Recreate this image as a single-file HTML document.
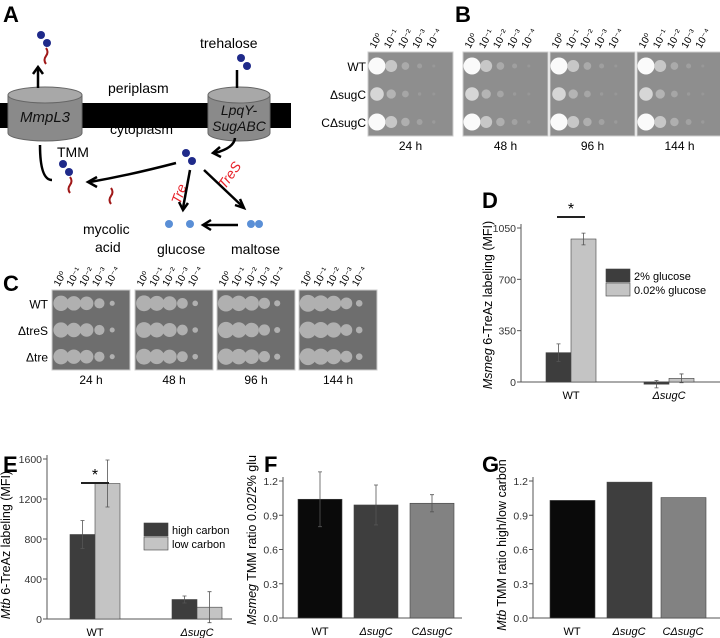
<!DOCTYPE html>
<html><head><meta charset="utf-8"><style>
body{margin:0;background:#fff;}
svg{display:block;font-family:"Liberation Sans",sans-serif;}
</style></head><body>
<svg id="fig" width="720" height="638" viewBox="0 0 720 638">
<g>
<text x="3" y="22" font-size="22" font-weight="bold">A</text>
<rect x="0" y="103" width="291" height="25" fill="#000"/>
<g>
<path d="M8 95 L8 133 A37 8 0 0 0 82 133 L82 95 Z" fill="#8a8a8a" stroke="#666"/>
<ellipse cx="45" cy="95" rx="37" ry="8" fill="#a8a8a8" stroke="#666"/>
<text x="45" y="122" font-size="15" font-style="italic" text-anchor="middle" fill="#111">MmpL3</text>
</g>
<g>
<path d="M208 95 L208 133 A31 8 0 0 0 270 133 L270 95 Z" fill="#8a8a8a" stroke="#666"/>
<ellipse cx="239" cy="95" rx="31" ry="8" fill="#a8a8a8" stroke="#666"/>
<text x="239" y="115" font-size="14" font-style="italic" text-anchor="middle" fill="#111">LpqY-</text>
<text x="239" y="131" font-size="14" font-style="italic" text-anchor="middle" fill="#111">SugABC</text>
</g>
<text x="108" y="93" font-size="14">periplasm</text>
<text x="200" y="48" font-size="14">trehalose</text>
<text x="110" y="134" font-size="14">cytoplasm</text>
<text x="57" y="157" font-size="14">TMM</text>
<text x="83" y="234" font-size="14">mycolic</text>
<text x="95" y="252" font-size="14">acid</text>
<text x="157" y="254" font-size="14">glucose</text>
<text x="231" y="254" font-size="14">maltose</text>
<text x="0" y="0" font-size="14" fill="#e8222a" font-style="italic" transform="translate(180,205) rotate(-70)">Tre</text>
<text x="0" y="0" font-size="14" fill="#e8222a" font-style="italic" transform="translate(225,190) rotate(-55)">TreS</text>
<g fill="#1f2a8a">
<circle cx="41" cy="35" r="4"/><circle cx="47" cy="43" r="4"/>
<circle cx="241" cy="58" r="4"/><circle cx="247" cy="66" r="4"/>
<circle cx="186" cy="153" r="4"/><circle cx="192" cy="161" r="4"/>
<circle cx="63" cy="164" r="4"/><circle cx="69" cy="172" r="4"/>
</g>
<g fill="#5a8fd6"><circle cx="169" cy="224" r="4"/><circle cx="190" cy="224" r="4"/><circle cx="251" cy="224" r="4"/><circle cx="259" cy="224" r="4"/></g>
<g stroke="#a01818" stroke-width="2" fill="none">
<path d="M46 48 q3 4 0 8 q-3 4 0 8"/><path d="M70 177 q3 4 0 8 q-3 4 0 8"/><path d="M111 188 q3 4 0 8 q-3 4 0 8"/>
</g>
<g stroke="#000" stroke-width="2.5" fill="none">
<line x1="237" y1="70" x2="237" y2="88"/>
<path d="M38 88 L38 68"/><path d="M33 74 L38 67 L43 74"/>
<path d="M52 180 Q40 180 40 145"/>
<path d="M176 163 Q130 175 90 182"/><path d="M97 177 L88 182 L97 187"/>
<path d="M235 138 Q234 148 215 153"/><path d="M220 147 L213 153 L221 157"/>
<path d="M190 170 L183 208"/><path d="M179 202 L183 210 L188 203"/>
<path d="M204 170 L242 206"/><path d="M235 205 L244 208 L240 199"/>
<path d="M238 225 L205 225"/><path d="M211 220 L203 225 L211 230"/>
</g>
</g>
<g id="plates"></g>
<text x="455" y="22" font-size="22" font-weight="bold">B</text>
<text x="3" y="291" font-size="22" font-weight="bold">C</text>
<g id="charts"></g>
</svg>
<script>
const NS="http://www.w3.org/2000/svg";
function mk(tag,attrs,parent,txt){const e=document.createElementNS(NS,tag);for(const k in attrs)e.setAttribute(k,attrs[k]);if(txt!==undefined)e.textContent=txt;parent.appendChild(e);return e;}
const plates=document.getElementById('plates');
const bRows=["WT","ΔsugC","CΔsugC"];
const bTimes=["24 h","48 h","96 h","144 h"];
const bSpots=[[1,0.7,0.45,0.3,0.15],[0.8,0.55,0.4,0.2,0.1],[1,0.7,0.5,0.35,0.2]];
const cRows=["WT","ΔtreS","Δtre"];
const cSpots=[[0.9,0.85,0.8,0.6,0.3],[0.9,0.85,0.8,0.6,0.3],[0.9,0.85,0.8,0.6,0.3]];
const expLabels=["10\u2070","10\u207B\u00B9","10\u207B\u00B2","10\u207B\u00B3","10\u207B\u2074"];
function drawPlates(xs,w,y0,h,rows,spots,times,labX,growth){
 rows.forEach((r,i)=>{const t=mk('text',{x:labX,y:y0+h*(i*2+1)/6+5,'font-size':12,'text-anchor':'end'},plates,r);
  
  });
 xs.forEach((x,p)=>{
  const pl=mk('rect',{x:x,y:y0,width:w,height:h,fill:growth?'#6e6e6e':'#8e8e8e',stroke:'#ccc'},plates);
  
  
  rows.forEach((r,i)=>spots[i].forEach((s,j)=>{
   const sf=growth?Math.min(1,s+p*0.03):s;
   const c=growth?176:Math.round(150+100*sf*sf);
   mk('circle',{cx:x+9+j*(w-14)/5,cy:y0+h*(i*2+1)/6,r:Math.max(1.5,sf*8.5),fill:`rgb(${c},${c},${c})`},plates);
  }));
  const tl=mk('text',{x:x+w/2,y:y0+h+14,'font-size':12,'text-anchor':'middle'},plates,times[p]);
  
  
  expLabels.forEach((e,j)=>{mk('text',{transform:`translate(${x+7+j*(w-14)/5},${y0-3}) rotate(-60)`,'font-size':10},plates,e);});
 });
}
drawPlates([368,463,550,637],85,52,84,bRows,bSpots,bTimes,366,false);
drawPlates([52,135,217,299],78,290,80,cRows,cSpots,bTimes,48,true);

const charts=document.getElementById('charts');
const dCats=["WT","ΔsugC"];
const dHigh=[200,-15];
const dLow=[975,25];
const dHighErr=[60,25];
const dLowErr=[40,30];
const dTicks=[0,350,700,1050];
const eCats=["WT","ΔsugC"];
const eHigh=[845,195];
const eLow=[1355,118];
const eHighErr=[140,35];
const eLowErr=[235,155];
const eTicks=[0,400,800,1200,1600];
const fCats=["WT","ΔsugC","CΔsugC"];
const fVals=[1.04,0.99,1.005];
const fErr=[0.24,0.175,0.075];
const fTicks=[0.0,0.3,0.6,0.9,1.2];
const gCats=["WT","ΔsugC","CΔsugC"];
const gVals=[1.03,1.19,1.055];
const gTicks=[0.0,0.3,0.6,0.9,1.2];

function axisChart(o){
 const g=mk('g',{},charts);
 
 
 const y=v=>o.y0-(v-o.vmin)/(o.vmax-o.vmin)*(o.y0-o.y1);
 mk('text',{x:o.lx,y:o.ly,'font-size':22,'font-weight':'bold'},g,o.letter);
 mk('line',{x1:o.ax,y1:o.y1-4,x2:o.ax,y2:y(0),stroke:'#555'},g);
 mk('line',{x1:o.ax,y1:y(0),x2:o.ax2,y2:y(0),stroke:'#555'},g);
 o.ticks.forEach(t=>{mk('line',{x1:o.ax-4,y1:y(t),x2:o.ax,y2:y(t),stroke:'#555'},g);
  const tl=mk('text',{x:o.ax-5,y:y(t)+4,'font-size':10.5,'text-anchor':'end',fill:'#333'},g,o.fmt?o.fmt(t):t);
  
  });
 const yt=mk('text',{transform:`translate(${o.tx},${o.tyc||(o.y0+o.y1)/2}) rotate(-90)`,'font-size':12.5,'text-anchor':'middle'},g);
 
 
 mk('tspan',{'font-style':'italic'},yt,o.titleIt);mk('tspan',{},yt,o.title);
 o.series.forEach((s,si)=>s.vals.forEach((v,i)=>{
  const x=o.cx[i]+s.off;
  const b=mk('rect',{x:x,y:Math.min(y(v),y(0)),width:o.bw,height:Math.abs(y(v)-y(0)),fill:s.colors[i]||s.colors[0],stroke:'#444','stroke-width':0.6},g);
  
  
  if(s.err){const cx=x+o.bw/2,e=s.err[i];
   mk('path',{d:`M${cx} ${y(v+e)}V${y(v-e)}M${cx-2} ${y(v+e)}h4M${cx-2} ${y(v-e)}h4`,stroke:'#555','stroke-width':0.8,fill:'none'},g);}
 }));
 o.cats.forEach((c,i)=>{const t=mk('text',{x:o.cx[i]+o.labOff,y:y(0)+17,'font-size':11,'text-anchor':'middle','font-style':c.startsWith('WT')?'normal':'italic'},g,c);
  
  });
 if(o.legend){o.legend.forEach((l,i)=>{mk('rect',{x:o.legX,y:o.legY+i*14,width:24,height:13,fill:l.c,stroke:'#444','stroke-width':0.6},g);
  const t=mk('text',{x:o.legX+28,y:o.legY+i*14+11,'font-size':11},g,l.t);
  
  });}
 if(o.star){mk('line',{x1:o.star[0],y1:o.star[2],x2:o.star[1],y2:o.star[2],stroke:'#222','stroke-width':2},g);
  mk('text',{x:(o.star[0]+o.star[1])/2,y:o.star[2]-3,'font-size':16,'text-anchor':'middle'},g,'*');}
 return g;
}
axisChart({name:'chart-d',letter:'D',lx:482,ly:208,ax:521,ax2:720,y0:382,y1:228,vmin:0,vmax:1050,ticks:dTicks,
 tx:492,tyc:305,titleIt:'Msmeg',title:' 6-TreAz labeling (MFI)',cats:dCats,cx:[546,644],bw:25,labOff:25,
 series:[{key:'high',vals:dHigh,err:dHighErr,off:0,colors:['#3d3d3d']},{key:'low',vals:dLow,err:dLowErr,off:25,colors:['#c4c4c4']}],
 legend:[{c:'#3d3d3d',t:'2% glucose'},{c:'#c4c4c4',t:'0.02% glucose'}],legX:606,legY:269,star:[557,585,217]});
axisChart({name:'chart-e',letter:'E',lx:3,ly:472,ax:47,ax2:232,y0:619,y1:459,vmin:0,vmax:1600,ticks:eTicks,
 tx:10,tyc:545,titleIt:'Mtb',title:' 6-TreAz labeling (MFI)',cats:eCats,cx:[70,172],bw:25,labOff:25,
 series:[{key:'high',vals:eHigh,err:eHighErr,off:0,colors:['#3d3d3d']},{key:'low',vals:eLow,err:eLowErr,off:25,colors:['#c4c4c4']}],
 legend:[{c:'#3d3d3d',t:'high carbon'},{c:'#c4c4c4',t:'low carbon'}],legX:144,legY:523,star:[81,109,483]});
axisChart({name:'chart-f',letter:'F',lx:264,ly:472,ax:283,ax2:462,y0:618,y1:481,vmin:0,vmax:1.2,ticks:fTicks,fmt:t=>t.toFixed(1),
 tx:256,tyc:540,titleIt:'Msmeg',title:' TMM ratio 0.02/2% glu',cats:fCats,cx:[298,354,410],bw:44,labOff:22,
 series:[{key:'ratio',vals:fVals,err:fErr,off:0,colors:['#0a0a0a','#3e3e3e','#828282']}]});
axisChart({name:'chart-g',letter:'G',lx:482,ly:472,ax:533,ax2:720,y0:618,y1:481,vmin:0,vmax:1.2,ticks:gTicks,fmt:t=>t.toFixed(1),
 tx:506,tyc:545,titleIt:'Mtb',title:' TMM ratio high/low carbon',cats:gCats,cx:[550,607,661],bw:45,labOff:22,
 series:[{key:'ratio',vals:gVals,off:0,colors:['#0a0a0a','#3e3e3e','#828282']}]});
</script>
</body></html>
